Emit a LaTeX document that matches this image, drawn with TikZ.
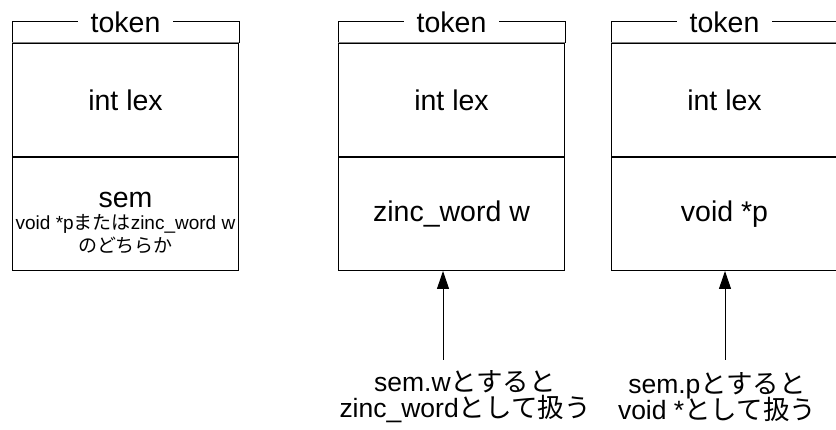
\documentclass[tikz,border=0pt]{standalone}
\usepackage{fontspec}
\setmainfont{Liberation Sans}
\newfontfamily\jp{Noto Sans CJK JP}
\usetikzlibrary{positioning, arrows.meta}

\newcommand{\bigtxt}{\fontsize{28.5}{27}\selectfont}
\newcommand{\notetxt}{\fontsize{26.5}{26}\selectfont\lineskiplimit=-50pt\relax}
\newcommand{\smalltxt}{\fontsize{19}{20}\selectfont\lineskiplimit=-50pt\relax}

\begin{document}
\begin{tikzpicture}[x=1pt, y=1pt,
    cell/.style={draw, line width=1pt, minimum width=226pt, minimum height=113pt, inner sep=0pt, align=center, font=\bigtxt},
    rule/.style={draw=black!50, line width=1pt},
    title/.style={fill=white, inner xsep=13pt, inner ysep=0pt, font=\bigtxt},
    ptr/.style={-{Triangle[length=18pt, width=12pt]}, line width=1pt},
    note/.style={align=center, font=\notetxt}]
    \useasboundingbox (0,0) rectangle (836,430);

    % union as a whole
    \node[cell, anchor=north west] (lexA) at (12,387) {int lex};
    \node[cell, below=0pt of lexA] (semA) {};
    \node[align=center, font=\smalltxt, yshift=-9pt] (semTxt) at (semA) {{\bigtxt sem}\\[2pt]void *p{\jp または}zinc\_word w\\[3pt]{\jp のどちらか}};
    \draw[line width=1pt] (lexA.north west) -- ++(0,21) -| (lexA.north east);
    \draw[rule] (lexA.north west) -- (lexA.north east);
    \path (lexA.north) ++(0,21) node[title] (tokA) {token};

    % seen through sem.w
    \node[cell, anchor=north west] (lexB) at (338,387) {int lex};
    \node[cell, below=0pt of lexB] (semB) {zinc\_word w};
    \draw[line width=1pt] (lexB.north west) -- ++(0,21) -| (lexB.north east);
    \draw[rule] (lexB.north west) -- (lexB.north east);
    \path (lexB.north) ++(0,21) node[title] (tokB) {token};

    % seen through sem.p
    \node[cell, anchor=north west] (lexC) at (611,387) {int lex};
    \node[cell, below=0pt of lexC] (semC) {void *p};
    \draw[line width=1pt] (lexC.north west) -- ++(0,21) -| (lexC.north east);
    \draw[rule] (lexC.north west) -- (lexC.north east);
    \path (lexC.north) ++(0,21) node[title] (tokC) {token};

    % access notes
    \node[note] (useB) at (465,33) {sem.w{\jp とすると}\\zinc\_word{\jp として扱う}};
    \node[note] (useC) at (717,33) {sem.p{\jp とすると}\\void *{\jp として扱う}};
    \coordinate (tailB) at (443,70);
    \coordinate (tailC) at (725,70);
    \draw[ptr] (tailB) -- (tailB |- semB.south);
    \draw[ptr] (tailC) -- (tailC |- semC.south);
\end{tikzpicture}
\end{document}
